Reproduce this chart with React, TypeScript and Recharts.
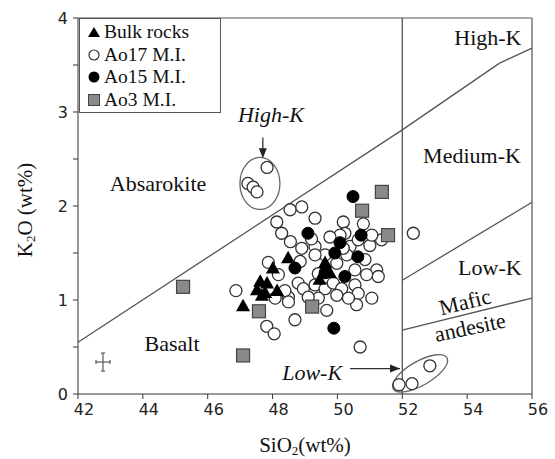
import React from 'react';
import { ScatterChart, Scatter, XAxis, YAxis, ReferenceLine, ReferenceDot, Legend, Label } from 'recharts';

const seriesNames = ['Bulk rocks', 'Ao17 M.I.', 'Ao15 M.I.', 'Ao3 M.I.'];

const bulkRocks = [
  { x: 47.09, y: 0.94 }, { x: 47.52, y: 1.11 }, { x: 47.67, y: 1.05 }, { x: 47.77, y: 1.08 },
  { x: 47.83, y: 1.18 }, { x: 48.01, y: 1.34 }, { x: 48.14, y: 1.1 }, { x: 48.48, y: 1.45 },
  { x: 49.62, y: 1.4 }, { x: 49.77, y: 1.29 }, { x: 49.45, y: 1.22 }, { x: 47.62, y: 1.2 },
];

const ao17 = [
  { x: 47.83, y: 2.41 }, { x: 47.24, y: 2.24 }, { x: 47.4, y: 2.2 }, { x: 47.52, y: 2.15 },
  { x: 51.9, y: 0.1 }, { x: 52.3, y: 0.11 }, { x: 52.85, y: 0.3 },
  { x: 48.54, y: 1.96 }, { x: 48.9, y: 1.99 }, { x: 49.31, y: 1.87 }, { x: 48.13, y: 1.83 },
  { x: 50.18, y: 1.83 }, { x: 50.8, y: 1.81 }, { x: 52.34, y: 1.71 },
  { x: 50.23, y: 1.71 }, { x: 49.31, y: 1.57 }, { x: 50.39, y: 1.57 }, { x: 51.0, y: 1.58 },
  { x: 51.36, y: 1.64 }, { x: 49.62, y: 1.48 }, { x: 50.29, y: 1.48 }, { x: 50.85, y: 1.43 },
  { x: 51.21, y: 1.32 }, { x: 51.26, y: 1.25 }, { x: 50.9, y: 1.27 }, { x: 50.54, y: 1.32 },
  { x: 49.98, y: 1.39 }, { x: 49.31, y: 1.48 }, { x: 48.85, y: 1.41 }, { x: 48.79, y: 1.18 },
  { x: 48.95, y: 1.12 }, { x: 49.31, y: 1.16 }, { x: 49.62, y: 1.12 }, { x: 49.87, y: 1.18 },
  { x: 50.13, y: 1.12 }, { x: 50.54, y: 1.16 }, { x: 50.64, y: 1.07 }, { x: 51.06, y: 1.02 },
  { x: 50.59, y: 0.95 }, { x: 49.41, y: 1.02 }, { x: 49.1, y: 1.03 }, { x: 48.49, y: 1.03 },
  { x: 48.38, y: 1.1 }, { x: 48.49, y: 0.98 }, { x: 49.67, y: 0.89 }, { x: 48.69, y: 0.79 },
  { x: 50.7, y: 0.5 }, { x: 49.98, y: 1.05 }, { x: 50.34, y: 1.02 }, { x: 48.18, y: 1.27 },
  { x: 49.41, y: 1.28 }, { x: 48.28, y: 1.71 }, { x: 50.08, y: 1.69 }, { x: 49.77, y: 1.67 },
  { x: 50.64, y: 1.64 }, { x: 51.06, y: 1.69 }, { x: 50.18, y: 1.55 }, { x: 48.55, y: 1.62 },
  { x: 48.9, y: 1.55 }, { x: 49.2, y: 1.65 },
  { x: 47.87, y: 1.4 }, { x: 46.87, y: 1.1 }, { x: 48.08, y: 1.02 }, { x: 47.82, y: 0.72 },
  { x: 48.05, y: 0.64 },
];

const ao15 = [
  { x: 50.48, y: 2.1 }, { x: 49.09, y: 1.71 }, { x: 50.73, y: 1.69 }, { x: 50.08, y: 1.61 },
  { x: 49.92, y: 1.5 }, { x: 50.63, y: 1.46 }, { x: 48.69, y: 1.34 }, { x: 49.62, y: 1.29 },
  { x: 50.23, y: 1.25 }, { x: 49.89, y: 0.7 },
];

const ao3 = [
  { x: 45.24, y: 1.14 }, { x: 47.09, y: 0.41 }, { x: 47.58, y: 0.88 }, { x: 51.37, y: 2.15 },
  { x: 50.76, y: 1.95 }, { x: 51.56, y: 1.69 }, { x: 49.22, y: 0.93 },
];

const errorCross = [{ x: 42.77, y: 0.34 }];

const xTicks = [42, 44, 46, 48, 50, 52, 54, 56];
const yTicks = [0, 0.5, 1, 1.5, 2, 2.5, 3, 3.5, 4];

const upperBoundary = [{ x: 42, y: 0.55 }, { x: 52, y: 2.81 }, { x: 55, y: 3.52 }, { x: 56, y: 3.68 }];
const midBoundary = [{ x: 52, y: 1.21 }, { x: 56, y: 2.04 }];
const lowBoundary = [{ x: 52, y: 0.68 }, { x: 56, y: 1.02 }];
const divider = [{ x: 52, y: 0 }, { x: 52, y: 4 }];

const fieldLabels = [
  { text: 'High-K', x: 54.64, y: 3.79, italic: false, angle: 0 },
  { text: 'Medium-K', x: 54.15, y: 2.54, italic: false, angle: 0 },
  { text: 'Low-K', x: 54.7, y: 1.35, italic: false, angle: 0 },
  { text: 'Mafic', x: 53.93, y: 0.98, italic: false, angle: -14 },
  { text: 'andesite', x: 54.09, y: 0.71, italic: false, angle: -12 },
  { text: 'Absarokite', x: 44.47, y: 2.24, italic: false, angle: 0 },
  { text: 'Basalt', x: 44.9, y: 0.54, italic: false, angle: 0 },
  { text: 'High-K', x: 47.95, y: 2.97, italic: true, angle: 0 },
  { text: 'Low-K', x: 49.22, y: 0.23, italic: true, angle: 0 },
];

const ellipses = [
  { x: 47.61, y: 2.24, rx: 20, ry: 26, angle: 0 },
  { x: 52.55, y: 0.22, rx: 31, ry: 12, angle: -30 },
];

const arrows = [
  { from: { x: 47.7, y: 2.73 }, to: { x: 47.7, y: 2.53 }, dir: 'down' },
  { from: { x: 50.39, y: 0.27 }, to: { x: 51.93, y: 0.27 }, dir: 'right' },
];

const SERIF = '"Liberation Serif", "Times New Roman", serif';
const SANS = '"DejaVu Sans", Verdana, sans-serif';
const LINE = '#555';

const pairs = (arr) => arr.slice(0, -1).map((p, i) => [p, arr[i + 1]]);

const OpenCircle = (p) => <circle cx={p.cx} cy={p.cy} r={6} fill="#fff" stroke="#333" strokeWidth={1.3} />;
const FilledCircle = (p) => <circle cx={p.cx} cy={p.cy} r={6} fill="#000" stroke="#000" strokeWidth={1} />;
const Triangle = (p) => (
  <polygon points={`${p.cx},${p.cy - 7} ${p.cx - 7},${p.cy + 5.5} ${p.cx + 7},${p.cy + 5.5}`} fill="#000" />
);
const Square = (p) => (
  <rect x={p.cx - 6.5} y={p.cy - 6.5} width={13} height={13} fill="#8a8a8a" stroke="#444" strokeWidth={1.2} />
);
const Cross = (p) => (
  <g stroke="#666" strokeWidth={1.3}>
    <line x1={p.cx - 7} y1={p.cy} x2={p.cx + 7} y2={p.cy} />
    <line x1={p.cx} y1={p.cy - 9} x2={p.cx} y2={p.cy + 9} />
    <line x1={p.cx - 7} y1={p.cy - 2} x2={p.cx - 7} y2={p.cy + 2} />
    <line x1={p.cx + 7} y1={p.cy - 2} x2={p.cx + 7} y2={p.cy + 2} />
    <line x1={p.cx - 2} y1={p.cy - 9} x2={p.cx + 2} y2={p.cy - 9} />
    <line x1={p.cx - 2} y1={p.cy + 9} x2={p.cx + 2} y2={p.cy + 9} />
  </g>
);

const legendIcons = [
  <polygon points="6,1 0,11 12,11" fill="#000" />,
  <circle cx={6} cy={6} r={5} fill="#fff" stroke="#333" strokeWidth={1.2} />,
  <circle cx={6} cy={6} r={5.5} fill="#000" />,
  <rect x={0.5} y={0.5} width={11} height={11} fill="#8a8a8a" stroke="#444" />,
];

const LegendBox = () => (
  <div
    style={{
      border: '1px solid #555',
      background: '#fff',
      width: 142,
      height: 95,
      boxSizing: 'border-box',
      paddingTop: 2,
      paddingLeft: 8,
    }}
  >
    {seriesNames.map((n, i) => (
      <div key={n} style={{ display: 'flex', alignItems: 'center', height: 22.5 }}>
        <svg width={13} height={12} style={{ marginRight: 3, flex: 'none' }}>{legendIcons[i]}</svg>
        <span style={{ fontFamily: SERIF, fontSize: 19.5, color: '#111', lineHeight: '20px', whiteSpace: 'nowrap' }}>{n}</span>
      </div>
    ))}
  </div>
);

const XTick = (p) => (
  <text x={p.x + 6} y={p.y} dy="0.71em" textAnchor="middle" fontFamily={SANS} fontSize={16} fill="#222">
    {p.payload.value}
  </text>
);
const YTick = (p) => (
  <text x={p.x} y={p.y} dy="0.355em" textAnchor="end" fontFamily={SANS} fontSize={16} fill="#222">
    {Number.isInteger(p.payload.value) ? p.payload.value : ''}
  </text>
);

export default function App() {
  return (
    <div style={{ position: 'absolute', left: 0, top: 0, width: 555, height: 459, background: '#fff' }}>
      <ScatterChart width={555} height={459} margin={{ top: 18, right: 23, left: 0, bottom: 0 }}>
        <XAxis
          type="number"
          dataKey="x"
          domain={[42, 56]}
          ticks={xTicks}
          allowDataOverflow
          stroke="#333"
          tickSize={5}
          tickMargin={5}
          height={65}
          tick={XTick}
          tickLine={{ stroke: '#333' }}
        >
          <Label
            content={({ viewBox }) => (
              <text x={viewBox.x + viewBox.width / 2} y={viewBox.y + 51} textAnchor="middle" dominantBaseline="central" fontFamily={SERIF} fontSize={21} fill="#111">
                <tspan>SiO</tspan>
                <tspan dy={5} fontSize={13}>2</tspan>
                <tspan dy={-5}>(wt%)</tspan>
              </text>
            )}
          />
        </XAxis>
        <YAxis
          type="number"
          dataKey="y"
          domain={[0, 4]}
          ticks={yTicks}
          allowDataOverflow
          stroke="#333"
          tickSize={5}
          tickMargin={5}
          width={78}
          tick={YTick}
          tickLine={{ stroke: '#333' }}
        >
          <Label
            content={({ viewBox }) => {
              const cx = 25;
              const cy = viewBox.y + viewBox.height / 2 + 4;
              return (
                <text x={cx} y={cy} transform={`rotate(-90 ${cx} ${cy})`} textAnchor="middle" dominantBaseline="central" fontFamily={SERIF} fontSize={21} fill="#111">
                  <tspan>K</tspan>
                  <tspan dy={5} fontSize={13}>2</tspan>
                  <tspan dy={-5}>O (wt%)</tspan>
                </text>
              );
            }}
          />
        </YAxis>

        <ReferenceLine y={4} stroke="#555" strokeWidth={1.2} />
        <ReferenceLine x={56} stroke="#555" strokeWidth={1.2} />
        {[divider, upperBoundary, midBoundary, lowBoundary].flatMap((arr, k) =>
          pairs(arr).map((s, i) => (
            <ReferenceLine key={`seg${k}-${i}`} segment={s} stroke={LINE} strokeWidth={1.3} ifOverflow="visible" />
          ))
        )}

        {ellipses.map((e, i) => (
          <ReferenceDot
            key={`el${i}`}
            x={e.x}
            y={e.y}
            r={0}
            ifOverflow="visible"
            shape={(p) => (
              <ellipse cx={p.cx} cy={p.cy} rx={e.rx} ry={e.ry} transform={`rotate(${e.angle} ${p.cx} ${p.cy})`} fill="none" stroke="#666" strokeWidth={1.3} />
            )}
          />
        ))}

        {arrows.map((a, i) => (
          <ReferenceLine key={`ar${i}`} segment={[a.from, a.to]} stroke="#333" strokeWidth={1.3} ifOverflow="visible" />
        ))}
        {arrows.map((a, i) => (
          <ReferenceDot
            key={`ah${i}`}
            x={a.to.x}
            y={a.to.y}
            r={0}
            ifOverflow="visible"
            shape={(p) =>
              a.dir === 'down' ? (
                <polygon points={`${p.cx - 4},${p.cy - 8} ${p.cx + 4},${p.cy - 8} ${p.cx},${p.cy + 2}`} fill="#222" />
              ) : (
                <polygon points={`${p.cx - 10},${p.cy - 4} ${p.cx - 10},${p.cy + 4} ${p.cx},${p.cy}`} fill="#222" />
              )
            }
          />
        ))}

        {fieldLabels.map((l, i) => (
          <ReferenceDot
            key={`lb${i}`}
            x={l.x}
            y={l.y}
            r={0}
            ifOverflow="visible"
            shape={(p) => (
              <text
                x={p.cx}
                y={p.cy}
                textAnchor="middle"
                dominantBaseline="central"
                fontFamily={SERIF}
                fontSize={22}
                fontStyle={l.italic ? 'italic' : 'normal'}
                fill="#111"
                transform={l.angle ? `rotate(${l.angle} ${p.cx} ${p.cy})` : undefined}
              >
                {l.text}
              </text>
            )}
          />
        ))}

        <Scatter name="error" data={errorCross} shape={Cross} isAnimationActive={false} legendType="none" />
        <Scatter name={seriesNames[1]} data={ao17} shape={OpenCircle} isAnimationActive={false} />
        <Scatter name={seriesNames[3]} data={ao3} shape={Square} isAnimationActive={false} />
        <Scatter name={seriesNames[2]} data={ao15} shape={FilledCircle} isAnimationActive={false} />
        <Scatter name={seriesNames[0]} data={bulkRocks} shape={Triangle} isAnimationActive={false} />

        <Legend
          layout="horizontal"
          verticalAlign="middle"
          align="center"
          content={LegendBox}
          wrapperStyle={{ position: 'absolute', left: 79, top: 18, width: 142, height: 95 }}
        />
      </ScatterChart>
    </div>
  );
}
